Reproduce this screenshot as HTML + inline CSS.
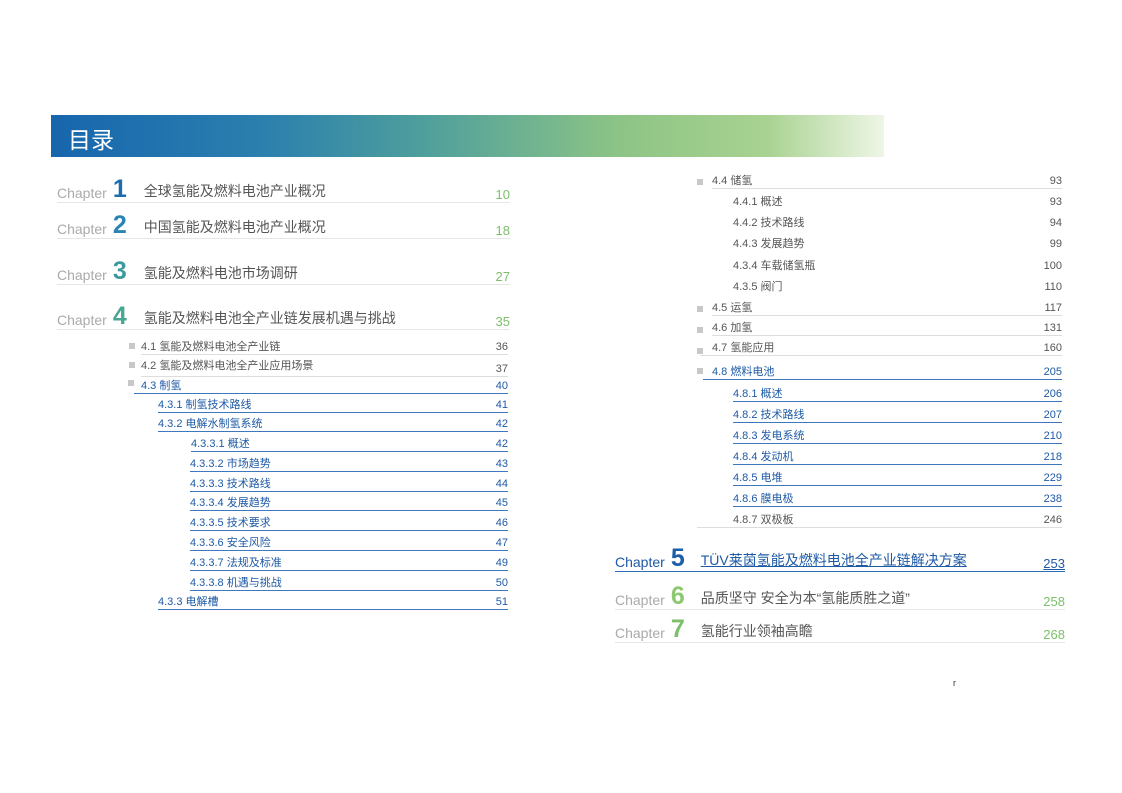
<!DOCTYPE html>
<html><head><meta charset="utf-8">
<style>
body{margin:0;width:1122px;height:793px;background:#fff;position:relative;overflow:hidden;font-family:"Liberation Sans","Noto Sans CJK SC",sans-serif;}
.bar{position:absolute;left:51px;top:115px;width:833px;height:42px;background:linear-gradient(90deg,#1766ad 0%,#2a7fae 25%,#4f9f9c 45%,#8cc485 68%,#a9d291 86%,#eef6e6 100%);}
.bar span{position:absolute;left:17px;top:6px;color:#fff;font-size:23px;}
.r{position:absolute;display:flex;justify-content:space-between;align-items:flex-end;box-sizing:border-box;white-space:nowrap;}
.g{color:#555;font-size:11px;height:16px;line-height:14px;}
.b{color:#1e5aa6;font-size:11px;height:16px;line-height:14px;border-bottom:1px solid #3d78bf;}
.gl{border-bottom:1px solid #ddd;}
.ch{height:30px;border-bottom:1px solid #e6e6e6;font-size:14px;color:#555;}
.ch .c{color:#aaa;font-size:14px;padding-bottom:1px;}
.ch .n{font-size:25px;font-weight:bold;margin:0 17px 0 6px;line-height:26px;}
.ch .p{color:#7cbf6a;font-size:13px;}
.ch .t{flex:1;padding-bottom:1px;}
.sq{position:absolute;width:6px;height:6px;background:#c8c8c8;}
</style></head><body>
<div class="bar"><span>目录</span></div>

<div class="r ch" style="left:57px;top:173px;width:453px;"><span class="c">Chapter</span><span class="n" style="color:#1d6cb0">1</span><span class="t">全球氢能及燃料电池产业概况</span><span class="p">10</span></div>
<div class="r ch" style="left:57px;top:209px;width:453px;"><span class="c">Chapter</span><span class="n" style="color:#2a84b3">2</span><span class="t">中国氢能及燃料电池产业概况</span><span class="p">18</span></div>
<div class="r ch" style="left:57px;top:255px;width:453px;"><span class="c">Chapter</span><span class="n" style="color:#3a9a9c">3</span><span class="t">氢能及燃料电池市场调研</span><span class="p">27</span></div>
<div class="r ch" style="left:57px;top:300px;width:453px;"><span class="c">Chapter</span><span class="n" style="color:#48a692">4</span><span class="t">氢能及燃料电池全产业链发展机遇与挑战</span><span class="p">35</span></div>

<div class="sq" style="left:129px;top:343px"></div>
<div class="r g gl" style="left:141px;top:339px;width:367px;"><span>4.1 氢能及燃料电池全产业链</span><span>36</span></div>
<div class="sq" style="left:129px;top:362px"></div>
<div class="r g gl" style="left:141px;top:359px;width:367px;height:18px;"><span style="align-self:flex-start">4.2 氢能及燃料电池全产业应用场景</span><span>37</span></div>
<div class="sq" style="left:128px;top:380px"></div>
<div class="r b" style="left:134px;top:378px;width:374px;"><span style="padding-left:7px">4.3 制氢</span><span>40</span></div>
<div class="r b" style="left:158px;top:397px;width:350px;"><span>4.3.1 制氢技术路线</span><span>41</span></div>
<div class="r b" style="left:158px;top:416px;width:350px;"><span>4.3.2 电解水制氢系统</span><span>42</span></div>
<div class="r b" style="left:191px;top:436px;width:317px;"><span>4.3.3.1 概述</span><span>42</span></div>
<div class="r b" style="left:190px;top:456px;width:318px;"><span>4.3.3.2 市场趋势</span><span>43</span></div>
<div class="r b" style="left:190px;top:476px;width:318px;"><span>4.3.3.3 技术路线</span><span>44</span></div>
<div class="r b" style="left:190px;top:495px;width:318px;"><span>4.3.3.4 发展趋势</span><span>45</span></div>
<div class="r b" style="left:190px;top:515px;width:318px;"><span>4.3.3.5 技术要求</span><span>46</span></div>
<div class="r b" style="left:190px;top:535px;width:318px;"><span>4.3.3.6 安全风险</span><span>47</span></div>
<div class="r b" style="left:190px;top:555px;width:318px;"><span>4.3.3.7 法规及标准</span><span>49</span></div>
<div class="r b" style="left:190px;top:575px;width:318px;"><span>4.3.3.8 机遇与挑战</span><span>50</span></div>
<div class="r b" style="left:158px;top:594px;width:350px;"><span>4.3.3 电解槽</span><span>51</span></div>

<div class="sq" style="left:697px;top:179px"></div>
<div class="r g gl" style="left:712px;top:173px;width:350px;"><span>4.4 储氢</span><span>93</span></div>
<div class="r g" style="left:733px;top:193px;width:329px;"><span>4.4.1 概述</span><span>93</span></div>
<div class="r g" style="left:733px;top:214px;width:329px;"><span>4.4.2 技术路线</span><span>94</span></div>
<div class="r g" style="left:733px;top:235px;width:329px;"><span>4.4.3 发展趋势</span><span>99</span></div>
<div class="r g" style="left:733px;top:257px;width:329px;"><span>4.3.4 车载储氢瓶</span><span>100</span></div>
<div class="r g" style="left:733px;top:278px;width:329px;"><span>4.3.5 阀门</span><span>110</span></div>
<div class="sq" style="left:697px;top:306px"></div>
<div class="r g gl" style="left:712px;top:300px;width:350px;"><span>4.5 运氢</span><span>117</span></div>
<div class="sq" style="left:697px;top:327px"></div>
<div class="r g gl" style="left:712px;top:320px;width:350px;"><span>4.6 加氢</span><span>131</span></div>
<div class="sq" style="left:697px;top:348px"></div>
<div class="r g gl" style="left:700px;top:340px;width:362px;"><span style="padding-left:12px">4.7 氢能应用</span><span>160</span></div>
<div class="sq" style="left:697px;top:368px"></div>
<div class="r b" style="left:703px;top:364px;width:359px;"><span style="padding-left:9px">4.8 燃料电池</span><span>205</span></div>
<div class="r b" style="left:733px;top:386px;width:329px;"><span>4.8.1 概述</span><span>206</span></div>
<div class="r b" style="left:733px;top:407px;width:329px;"><span>4.8.2 技术路线</span><span>207</span></div>
<div class="r b" style="left:733px;top:428px;width:329px;"><span>4.8.3 发电系统</span><span>210</span></div>
<div class="r b" style="left:733px;top:449px;width:329px;"><span>4.8.4 发动机</span><span>218</span></div>
<div class="r b" style="left:733px;top:470px;width:329px;"><span>4.8.5 电堆</span><span>229</span></div>
<div class="r b" style="left:733px;top:491px;width:329px;"><span>4.8.6 膜电极</span><span>238</span></div>
<div class="r g gl" style="left:697px;top:512px;width:365px;"><span style="padding-left:36px">4.8.7 双极板</span><span>246</span></div>

<div class="r ch" style="left:615px;top:542px;width:450px;border-bottom:1px solid #2f6fb7;"><span class="c" style="color:#1e5aa6">Chapter</span><span class="n" style="color:#1d5ea8;margin-right:16px">5</span><span class="t" style="color:#1e5aa6;text-decoration:underline">TÜV莱茵氢能及燃料电池全产业链解决方案</span><span class="p" style="color:#1e5aa6;text-decoration:underline">253</span></div>
<div class="r ch" style="left:615px;top:580px;width:450px;"><span class="c">Chapter</span><span class="n" style="color:#8cc870;margin-right:16px">6</span><span class="t">品质坚守 安全为本“氢能质胜之道”</span><span class="p">258</span></div>
<div class="r ch" style="left:615px;top:613px;width:450px;"><span class="c">Chapter</span><span class="n" style="color:#7cbf6a;margin-right:16px">7</span><span class="t">氢能行业领袖高瞻</span><span class="p">268</span></div>

<div style="position:absolute;left:953px;top:678px;font-size:9px;color:#333">r</div>
</body></html>
